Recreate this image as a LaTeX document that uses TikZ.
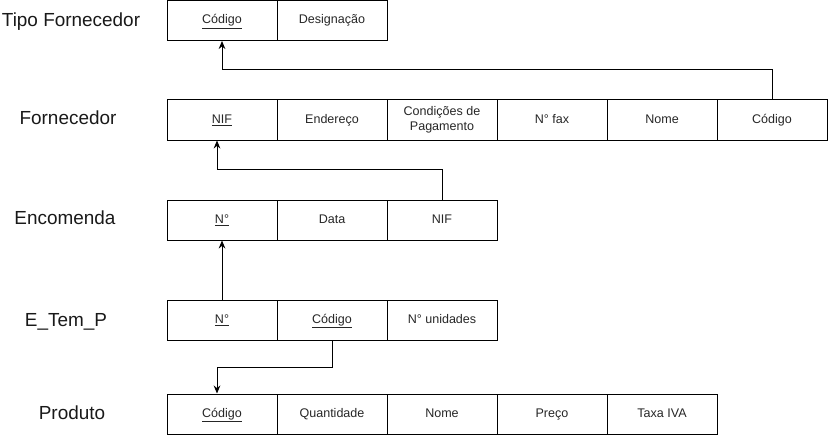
\documentclass[tikz,border=0pt]{standalone}
\usepackage{fontspec}
\setmainfont{Liberation Sans}
\usetikzlibrary{arrows.meta,calc}
\begin{document}
\begin{tikzpicture}[x=0.75pt,y=-0.75pt,
  cellbase/.style={draw=black,line width=0.75pt,minimum width=82.5pt,minimum height=30pt,
    inner sep=0pt,align=center,font=\fontsize{9.4}{11}\selectfont,text=black!85},
  cell/.style={cellbase,text height=6.8pt,text depth=2pt},
  title/.style={font=\fontsize{14.2}{16}\selectfont,text=black!90},
  arr/.style={line width=0.75pt,-{Stealth[length=6pt,width=5pt]}}]
\useasboundingbox (0,0) rectangle (828,435);
% labels
\node[title] (lt) at (71,22) {Tipo Fornecedor};
\node[title] (lf) at (68,118) {Fornecedor};
\node[title] (le) at (65,218) {Encomenda};
\node[title] (lp) at (66,322) {E\_Tem\_P};
\node[title] (lq) at (72,413) {Produto};
% Tipo Fornecedor
\node[cell] (tcod) at (222,20.5) {\underline{Código}};
\node[cell] (tdes) at (332,20.5) {Designação};
% Fornecedor
\node[cell] (fnif) at (222,120) {\underline{NIF}};
\node[cell] (fend) at (332,120) {Endereço};
\node[cellbase] (fcon) at (442,120) {Condições de\\Pagamento};
\node[cell] (ffax) at (552,120) {N° fax};
\node[cell] (fnom) at (662,120) {Nome};
\node[cell] (fcod) at (772,120) {Código};
% Encomenda
\node[cell] (en) at (222,220) {\underline{N°}};
\node[cell] (edat) at (332,220) {Data};
\node[cell] (enif) at (442,220) {NIF};
% E_Tem_P
\node[cell] (tn) at (222,320) {\underline{N°}};
\node[cell] (tcodp) at (332,320) {\underline{Código}};
\node[cell] (tuni) at (442,320) {N° unidades};
% Produto
\node[cell] (pcod) at (222,414) {\underline{Código}};
\node[cell] (pqua) at (332,414) {Quantidade};
\node[cell] (pnom) at (442,414) {Nome};
\node[cell] (ppre) at (552,414) {Preço};
\node[cell] (piva) at (662,414) {Taxa IVA};
% connectors
\draw[arr] (fcod.north) -- ++(0,-30) -| (tcod.south);
\draw[arr] (enif.north) -- ++(0,-30) -| ($(fnif.south)+(-5,0)$);
\draw[arr] (tn.north) -- (en.south);
\draw[arr] (tcodp.south) -- ++(0,27) -| ($(pcod.north)+(-5,0)$);
\end{tikzpicture}
\end{document}
